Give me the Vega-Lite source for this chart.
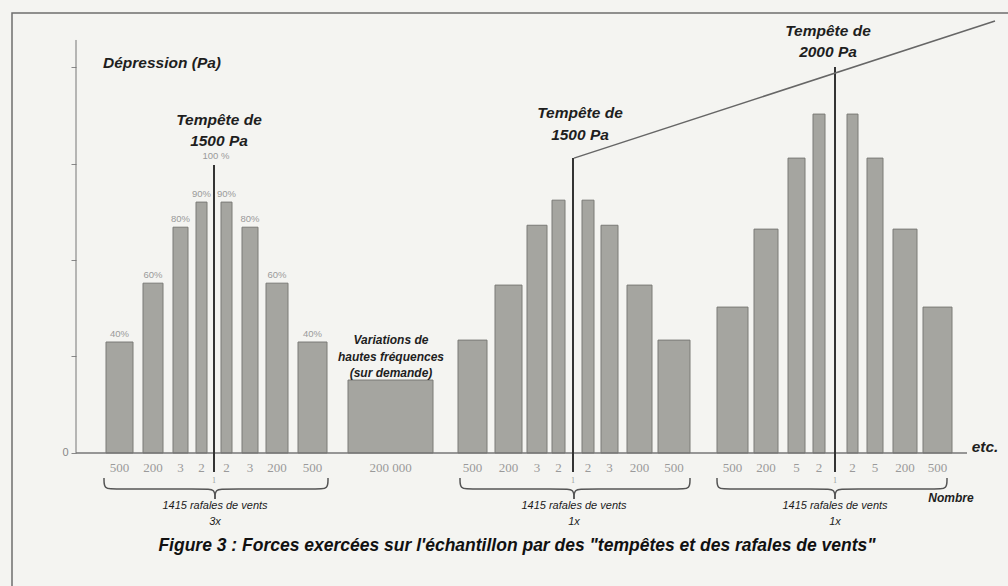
{
  "$schema": "https://vega.github.io/schema/vega-lite/v6.json",
  "width": 1000,
  "height": 580,
  "autosize": {"type": "none"},
  "padding": {"left": 12, "top": 13, "right": 0, "bottom": 0},
  "background": "#f4f4f1",
  "config": {"view": {"stroke": "#6e6e6e", "strokeWidth": 1.5}},
  "data": {"name": "one"},
  "datasets": {
    "one": [{"k": 1}],
    "bars": [
      {"g": 1, "n": "500", "x0": 3.0, "x1": 5.7, "v": 575, "p": "40%"},
      {"g": 1, "n": "200", "x0": 6.7, "x1": 8.7, "v": 880, "p": "60%"},
      {"g": 1, "n": "3", "x0": 9.7, "x1": 11.2, "v": 1170, "p": "80%"},
      {"g": 1, "n": "2", "x0": 12.0, "x1": 13.1, "v": 1300, "p": "90%"},
      {"g": 1, "n": "2", "x0": 14.5, "x1": 15.6, "v": 1300, "p": "90%"},
      {"g": 1, "n": "3", "x0": 16.6, "x1": 18.2, "v": 1170, "p": "80%"},
      {"g": 1, "n": "200", "x0": 19.0, "x1": 21.2, "v": 880, "p": "60%"},
      {"g": 1, "n": "500", "x0": 22.2, "x1": 25.1, "v": 575, "p": "40%"},
      {"g": 0, "n": "200 000", "x0": 27.2, "x1": 35.7, "v": 378, "p": ""},
      {"g": 2, "n": "500", "x0": 38.2, "x1": 41.1, "v": 585, "p": ""},
      {"g": 2, "n": "200", "x0": 41.9, "x1": 44.6, "v": 870, "p": ""},
      {"g": 2, "n": "3", "x0": 45.1, "x1": 47.1, "v": 1180, "p": ""},
      {"g": 2, "n": "2", "x0": 47.6, "x1": 48.9, "v": 1310, "p": ""},
      {"g": 2, "n": "2", "x0": 50.6, "x1": 51.8, "v": 1310, "p": ""},
      {"g": 2, "n": "3", "x0": 52.5, "x1": 54.2, "v": 1180, "p": ""},
      {"g": 2, "n": "200", "x0": 55.1, "x1": 57.6, "v": 870, "p": ""},
      {"g": 2, "n": "500", "x0": 58.2, "x1": 61.4, "v": 585, "p": ""},
      {"g": 3, "n": "500", "x0": 64.1, "x1": 67.2, "v": 756, "p": ""},
      {"g": 3, "n": "200", "x0": 67.8, "x1": 70.2, "v": 1160, "p": ""},
      {"g": 3, "n": "5", "x0": 71.2, "x1": 72.9, "v": 1528, "p": ""},
      {"g": 3, "n": "2", "x0": 73.7, "x1": 74.9, "v": 1756, "p": ""},
      {"g": 3, "n": "2", "x0": 77.1, "x1": 78.2, "v": 1756, "p": ""},
      {"g": 3, "n": "5", "x0": 79.1, "x1": 80.7, "v": 1528, "p": ""},
      {"g": 3, "n": "200", "x0": 81.7, "x1": 84.1, "v": 1160, "p": ""},
      {"g": 3, "n": "500", "x0": 84.7, "x1": 87.6, "v": 756, "p": ""}
    ],
    "storms": [
      {"x": 13.8, "v": 1492},
      {"x": 49.7, "v": 1528},
      {"x": 75.9, "v": 2000}
    ],
    "braces": [
      {"b": "1L", "i": 0, "x": 2.8, "y": -130}, {"b": "1L", "i": 1, "x": 2.8, "y": -187}, {"b": "1L", "i": 2, "x": 3.8, "y": -187}, {"b": "1L", "i": 3, "x": 12.9, "y": -187}, {"b": "1L", "i": 4, "x": 13.9, "y": -187}, {"b": "1L", "i": 5, "x": 13.9, "y": -238},
      {"b": "1R", "i": 0, "x": 25.2, "y": -130}, {"b": "1R", "i": 1, "x": 25.2, "y": -187}, {"b": "1R", "i": 2, "x": 24.2, "y": -187}, {"b": "1R", "i": 3, "x": 14.9, "y": -187}, {"b": "1R", "i": 4, "x": 13.9, "y": -187}, {"b": "1R", "i": 5, "x": 13.9, "y": -238},
      {"b": "2L", "i": 0, "x": 38.4, "y": -130}, {"b": "2L", "i": 1, "x": 38.4, "y": -187}, {"b": "2L", "i": 2, "x": 39.4, "y": -187}, {"b": "2L", "i": 3, "x": 48.8, "y": -187}, {"b": "2L", "i": 4, "x": 49.8, "y": -187}, {"b": "2L", "i": 5, "x": 49.8, "y": -238},
      {"b": "2R", "i": 0, "x": 61.4, "y": -130}, {"b": "2R", "i": 1, "x": 61.4, "y": -187}, {"b": "2R", "i": 2, "x": 60.4, "y": -187}, {"b": "2R", "i": 3, "x": 50.8, "y": -187}, {"b": "2R", "i": 4, "x": 49.8, "y": -187}, {"b": "2R", "i": 5, "x": 49.8, "y": -238},
      {"b": "3L", "i": 0, "x": 64.1, "y": -130}, {"b": "3L", "i": 1, "x": 64.1, "y": -187}, {"b": "3L", "i": 2, "x": 65.1, "y": -187}, {"b": "3L", "i": 3, "x": 74.9, "y": -187}, {"b": "3L", "i": 4, "x": 75.9, "y": -187}, {"b": "3L", "i": 5, "x": 75.9, "y": -238},
      {"b": "3R", "i": 0, "x": 87.1, "y": -130}, {"b": "3R", "i": 1, "x": 87.1, "y": -187}, {"b": "3R", "i": 2, "x": 86.1, "y": -187}, {"b": "3R", "i": 3, "x": 76.9, "y": -187}, {"b": "3R", "i": 4, "x": 75.9, "y": -187}, {"b": "3R", "i": 5, "x": 75.9, "y": -238}
    ],
    "bigtitles": [
      {"x": 8.6, "y": 2021, "t": "Dépression (Pa)"},
      {"x": 14.3, "y": 1725, "t": "Tempête de"},
      {"x": 14.3, "y": 1617, "t": "1500 Pa"},
      {"x": 50.4, "y": 1762, "t": "Tempête de"},
      {"x": 50.4, "y": 1648, "t": "1500 Pa"},
      {"x": 75.2, "y": 2187, "t": "Tempête de"},
      {"x": 75.2, "y": 2078, "t": "2000 Pa"},
      {"x": 90.9, "y": 31, "t": "etc."}
    ],
    "titles": [
      {"x": 31.5, "y": 585, "t": "Variations de"},
      {"x": 31.5, "y": 497, "t": "hautes fréquences"},
      {"x": 31.5, "y": 414, "t": "(sur demande)"},
      {"x": 87.5, "y": -233, "t": "Nombre"}
    ],
    "groups": [
      {"x": 13.9, "y": -275, "t": "1415 rafales de vents"},
      {"x": 13.9, "y": -357, "t": "3x"},
      {"x": 49.8, "y": -275, "t": "1415 rafales de vents"},
      {"x": 49.8, "y": -357, "t": "1x"},
      {"x": 75.9, "y": -275, "t": "1415 rafales de vents"},
      {"x": 75.9, "y": -357, "t": "1x"}
    ]
  },
  "layer": [
    {
      "data": {"name": "bars"},
      "mark": {"type": "rect", "fill": "#a5a5a0", "stroke": "#7a7a76", "strokeWidth": 1},
      "encoding": {
        "x": {"field": "x0", "type": "quantitative", "scale": {"domain": [-6.4, 93.6], "nice": false, "zero": false}, "axis": null},
        "x2": {"field": "x1"},
        "y": {"field": "v", "type": "quantitative", "scale": {"domain": [-725.4, 2279.8], "nice": false, "zero": false}, "axis": {"title": null, "domain": false, "grid": false, "values": [0, 500, 1000, 1500, 2000], "tickSize": 5, "tickColor": "#888", "tickWidth": 1, "labelExpr": "datum.value == 0 ? '0' : ''", "labelColor": "#888", "labelFont": "Liberation Sans", "labelFontSize": 11, "labelPadding": 3, "offset": -64}},
        "y2": {"datum": 0}
      }
    },
    {
      "mark": {"type": "rule", "color": "#777", "strokeWidth": 1},
      "encoding": {
        "x": {"datum": 0, "type": "quantitative"},
        "y": {"datum": 0, "type": "quantitative"},
        "y2": {"datum": 2140}
      }
    },
    {
      "mark": {"type": "rule", "color": "#777", "strokeWidth": 1.5},
      "encoding": {
        "x": {"datum": 0, "type": "quantitative"},
        "x2": {"datum": 89.1},
        "y": {"datum": 0, "type": "quantitative"}
      }
    },
    {
      "data": {"name": "bars"},
      "transform": [{"calculate": "(datum.x0 + datum.x1) / 2", "as": "xm"}],
      "mark": {"type": "text", "font": "Liberation Serif", "fontSize": 13, "color": "#9a9a9a", "baseline": "middle"},
      "encoding": {
        "x": {"field": "xm", "type": "quantitative"},
        "y": {"datum": -78, "type": "quantitative"},
        "text": {"field": "n", "type": "nominal"}
      }
    },
    {
      "data": {"name": "bars"},
      "transform": [{"filter": "datum.g == 1"}, {"calculate": "(datum.x0 + datum.x1) / 2", "as": "xm"}],
      "mark": {"type": "text", "font": "Liberation Sans Narrow, Liberation Sans", "fontSize": 9.5, "color": "#9a9a9a", "baseline": "bottom", "dy": -3},
      "encoding": {
        "x": {"field": "xm", "type": "quantitative"},
        "y": {"field": "v", "type": "quantitative"},
        "text": {"field": "p", "type": "nominal"}
      }
    },
    {
      "data": {"name": "storms"},
      "mark": {"type": "rule", "color": "#333", "strokeWidth": 2},
      "encoding": {
        "x": {"field": "x", "type": "quantitative"},
        "y": {"field": "v", "type": "quantitative"},
        "y2": {"datum": -98}
      }
    },
    {
      "data": {"name": "storms"},
      "mark": {"type": "text", "font": "Liberation Serif", "fontSize": 8, "color": "#999", "baseline": "middle"},
      "encoding": {
        "x": {"field": "x", "type": "quantitative"},
        "y": {"datum": -145, "type": "quantitative"},
        "text": {"value": "1"}
      }
    },
    {
      "mark": {"type": "text", "font": "Liberation Sans Narrow, Liberation Sans", "fontSize": 9.5, "color": "#9a9a9a", "baseline": "bottom", "dy": -4},
      "encoding": {
        "x": {"datum": 14.0, "type": "quantitative"},
        "y": {"datum": 1492, "type": "quantitative"},
        "text": {"value": "100 %"}
      }
    },
    {
      "mark": {"type": "rule", "color": "#666", "strokeWidth": 1.5},
      "encoding": {
        "x": {"datum": 49.8, "type": "quantitative"},
        "y": {"datum": 1528, "type": "quantitative"},
        "x2": {"datum": 91.9},
        "y2": {"datum": 2238}
      }
    },
    {
      "data": {"name": "braces"},
      "mark": {"type": "line", "interpolate": "basis", "color": "#555", "strokeWidth": 1.5},
      "encoding": {
        "x": {"field": "x", "type": "quantitative"},
        "y": {"field": "y", "type": "quantitative"},
        "detail": {"field": "b", "type": "nominal"},
        "order": {"field": "i", "type": "quantitative"}
      }
    },
    {
      "data": {"name": "bigtitles"},
      "mark": {"type": "text", "font": "Liberation Sans", "fontSize": 15.5, "fontWeight": "bold", "fontStyle": "italic", "color": "#1e1e1e", "baseline": "middle", "align": "center"},
      "encoding": {
        "x": {"field": "x", "type": "quantitative"},
        "y": {"field": "y", "type": "quantitative"},
        "text": {"field": "t", "type": "nominal"}
      }
    },
    {
      "data": {"name": "titles"},
      "mark": {"type": "text", "font": "Liberation Sans", "fontSize": 12, "fontWeight": "bold", "fontStyle": "italic", "color": "#1e1e1e", "baseline": "middle", "align": "center"},
      "encoding": {
        "x": {"field": "x", "type": "quantitative"},
        "y": {"field": "y", "type": "quantitative"},
        "text": {"field": "t", "type": "nominal"}
      }
    },
    {
      "data": {"name": "groups"},
      "mark": {"type": "text", "font": "Liberation Sans", "fontSize": 11, "fontStyle": "italic", "color": "#1a1a1a", "baseline": "middle", "align": "center"},
      "encoding": {
        "x": {"field": "x", "type": "quantitative"},
        "y": {"field": "y", "type": "quantitative"},
        "text": {"field": "t", "type": "nominal"}
      }
    },
    {
      "mark": {"type": "text", "font": "Liberation Sans", "fontSize": 17.5, "fontWeight": "bold", "fontStyle": "italic", "color": "#111", "baseline": "middle", "align": "center"},
      "encoding": {
        "x": {"datum": 44.1, "type": "quantitative"},
        "y": {"datum": -482, "type": "quantitative"},
        "text": {"value": "Figure 3 : Forces exercées sur l'échantillon par des \"tempêtes et des rafales de vents\""}
      }
    }
  ]
}
